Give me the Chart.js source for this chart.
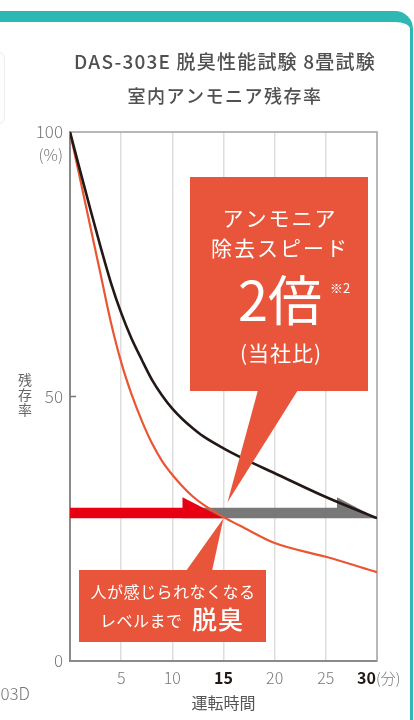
<!DOCTYPE html>
<html>
<head>
<meta charset="utf-8">
<script src="https://cdn.jsdelivr.net/npm/chart.js@4.4.1/dist/chart.umd.min.js"></script>
<style>
html, body { margin: 0; padding: 0; background: #fff; width: 414px; height: 720px; overflow: hidden; }
#frame { position: absolute; left: -40px; top: 11px; width: 453px; height: 760px; box-sizing: border-box;
  border-top: 11px solid #2db8b3; border-right: 3px solid #2db8b3; border-top-right-radius: 18px; }
#tab { position: absolute; left: -12px; top: 52px; width: 15px; height: 70px; border: 1px solid #eee; border-radius: 6px; background: #fdfdfd; }
#chart { position: absolute; left: 0; top: 0; }
</style>
</head>
<body>
<div id="frame"></div>
<div id="tab"></div>
<canvas id="chart" width="414" height="720"></canvas>
<script>
// 運転時間 (分)
var minutes = [0, 1, 2, 3, 4, 5, 6, 7, 8, 9, 10, 11, 12, 13, 15, 17, 20, 25, 30];
// 室内アンモニア残存率 (%)
var otherModel = [100, 92.6, 85.3, 78.2, 71.5, 65.8, 61, 57, 53.2, 50.2, 47.7, 45.7, 44, 42.5, 40.2, 38.2, 35.5, 31, 27];
var das303e = [100, 91, 82, 73, 64, 56.5, 50.5, 45.5, 41.2, 37.8, 35.2, 33, 31.1, 29.6, 27.2, 25.2, 22.3, 19.7, 16.8];
var yTicks = [0, 50, 100];
var xTicks = [5, 10, 15, 20, 25, 30];
var boldTicks = [15, 30];
// 人が感じられなくなるレベル
var odorLevel = 27;
var reachedAt = [15, 30];

var JP = "'Noto Sans CJK JP', 'Noto Sans', sans-serif";
var BOX = '#e9553b';

function pts(vals) {
    return minutes.map(function (m, i) { return { x: m, y: vals[i] }; });
}

function halfArrow(ctx, x0, x1, y, headLen, color) {
    // band 10.5px tall, head rises 21px above the band bottom
    ctx.fillStyle = color;
    ctx.beginPath();
    ctx.moveTo(x0, y);
    ctx.lineTo(x1, y);
    ctx.lineTo(x1 - headLen, y - 21);
    ctx.lineTo(x1 - headLen, y - 10.5);
    ctx.lineTo(x0, y - 10.5);
    ctx.closePath();
    ctx.fill();
}

function text(ctx, str, x, y, font, color, align, spacing) {
    ctx.font = font;
    ctx.fillStyle = color;
    ctx.textAlign = align || 'center';
    ctx.textBaseline = 'middle';
    ctx.letterSpacing = spacing || '0px';
    ctx.fillText(str, x, y);
    ctx.letterSpacing = '0px';
}

var decor = {
    id: 'decor',
    beforeDatasetsDraw: function (chart) {
        var ctx = chart.ctx, a = chart.chartArea, x = chart.scales.x, y = chart.scales.y;
        ctx.save();
        ctx.strokeStyle = '#a0a0a0';
        ctx.lineWidth = 1.5;
        ctx.beginPath();
        ctx.moveTo(a.left, a.top);
        ctx.lineTo(a.right, a.top);
        ctx.lineTo(a.right, a.bottom);
        ctx.stroke();
        ctx.strokeStyle = '#777';
        ctx.beginPath();
        ctx.moveTo(a.left, y.getPixelForValue(50));
        ctx.lineTo(a.left + 6, y.getPixelForValue(50));
        ctx.stroke();

        var ly = y.getPixelForValue(odorLevel);
        var xa = x.getPixelForValue(reachedAt[0]);
        var xb = x.getPixelForValue(reachedAt[1]);
        halfArrow(ctx, xa - 41, xb, ly, 40, 'rgba(110,108,108,0.92)');
        halfArrow(ctx, a.left, xa, ly, 41, '#e60012');
        ctx.restore();
    },
    afterDatasetsDraw: function (chart) {
        var ctx = chart.ctx, x = chart.scales.x, y = chart.scales.y;
        var tx = x.getPixelForValue(reachedAt[0]);
        var ty = y.getPixelForValue(odorLevel);
        ctx.save();

        // big callout
        ctx.fillStyle = BOX;
        ctx.fillRect(190, 177, 178, 214);
        ctx.beginPath();
        ctx.moveTo(258, 390);
        ctx.lineTo(298, 390);
        ctx.lineTo(tx + 4, ty - 16);
        ctx.closePath();
        ctx.fill();
        text(ctx, 'アンモニア', 280, 218, '400 21px ' + JP, '#fff', 'center', '2px');
        text(ctx, '除去スピード', 280, 248, '400 21px ' + JP, '#fff', 'center', '2px');
        text(ctx, '2倍', 280, 300, '400 54px ' + JP, '#fff', 'center', '0px');
        text(ctx, '※2', 330, 288, '400 13px ' + JP, '#fff', 'left', '0px');
        text(ctx, '(当社比)', 281, 353, '400 21px ' + JP, '#fff', 'center', '1px');

        // small callout
        ctx.fillStyle = BOX;
        ctx.fillRect(79, 570, 187, 72);
        ctx.beginPath();
        ctx.moveTo(186, 571);
        ctx.lineTo(212, 571);
        ctx.lineTo(tx, ty);
        ctx.closePath();
        ctx.fill();
        text(ctx, '人が感じられなくなる', 173, 592, '400 16px ' + JP, '#fff', 'center', '0.5px');
        text(ctx, 'レベルまで', 100, 621, '400 16px ' + JP, '#fff', 'left', '0.5px');
        text(ctx, '脱臭', 192, 619, '500 25px ' + JP, '#fff', 'left', '1px');
        ctx.restore();
    },
    afterDraw: function (chart) {
        var ctx = chart.ctx, x = chart.scales.x;
        ctx.save();
        text(ctx, 'DAS-303E 脱臭性能試験 8畳試験', 225, 62, '500 19px ' + JP, '#505050', 'center', '1.2px');
        text(ctx, '室内アンモニア残存率', 225, 96, '500 18px ' + JP, '#505050', 'center', '1.5px');
        text(ctx, '(%)', 63, 155, '300 16px ' + JP, '#777', 'right', '0px');
        var ch = ['残', '存', '率'];
        for (var i = 0; i < ch.length; i++) {
            text(ctx, ch[i], 25, 380 + i * 15, '400 14px ' + JP, '#666', 'center', '0px');
        }
        var x30 = x.getPixelForValue(30);
        text(ctx, '30', x30 - 1, 678, '700 16px ' + JP, '#231815', 'right', '0px');
        text(ctx, '(分)', x30 - 1, 678, '300 15px ' + JP, '#777', 'left', '0px');
        text(ctx, 'DAS-303D', 30, 694, '300 17px ' + JP, '#777', 'right', '0px');
        ctx.restore();
    }
};

var chart = new Chart(document.getElementById('chart'), {
    type: 'line',
    data: {
        datasets: [
            {
                label: '従来品',
                data: pts(otherModel),
                borderColor: '#231815',
                borderWidth: 2.6,
                pointRadius: 0,
                cubicInterpolationMode: 'monotone',
                fill: false
            },
            {
                label: 'DAS-303E',
                data: pts(das303e),
                borderColor: '#ea5532',
                borderWidth: 2.2,
                pointRadius: 0,
                cubicInterpolationMode: 'monotone',
                fill: false
            }
        ]
    },
    options: {
        responsive: false,
        animation: false,
        layout: { padding: { left: 0, right: 37, top: 132, bottom: 0 } },
        plugins: {
            legend: { display: false },
            tooltip: { enabled: false }
        },
        scales: {
            x: {
                type: 'linear',
                min: 0,
                max: 30,
                afterFit: function (s) { s.height = 59; },
                afterBuildTicks: function (s) {
                    s.ticks = [0].concat(xTicks).map(function (v) { return { value: v }; });
                },
                ticks: {
                    padding: 7,
                    font: function (c) {
                        return { family: JP, size: 16, weight: boldTicks.indexOf(c.tick && c.tick.value) >= 0 ? 700 : 300 };
                    },
                    color: function (c) {
                        return boldTicks.indexOf(c.tick && c.tick.value) >= 0 ? '#231815' : '#777';
                    },
                    callback: function (v) { return (v === 0 || v === 30) ? '' : String(v); }
                },
                grid: {
                    drawTicks: false,
                    lineWidth: 1.5,
                    color: function (c) {
                        var v = c.tick && c.tick.value;
                        return (v === 0 || v === 30) ? 'rgba(0,0,0,0)' : '#dedede';
                    }
                },
                border: { display: true, color: '#8a8a8a', width: 2 },
                title: {
                    display: true,
                    text: '運転時間',
                    color: '#555',
                    font: { family: JP, size: 16, weight: 400 },
                    padding: { top: 0, bottom: 7 }
                }
            },
            y: {
                min: 0,
                max: 100,
                afterFit: function (s) { s.width = 70; },
                afterBuildTicks: function (s) {
                    s.ticks = yTicks.map(function (v) { return { value: v }; });
                },
                ticks: {
                    padding: 7,
                    color: '#777',
                    font: { family: JP, size: 17, weight: 300 }
                },
                grid: { display: false, drawTicks: false },
                border: { display: true, color: '#8a8a8a', width: 2 }
            }
        }
    },
    plugins: [decor]
});
</script>
</body>
</html>
